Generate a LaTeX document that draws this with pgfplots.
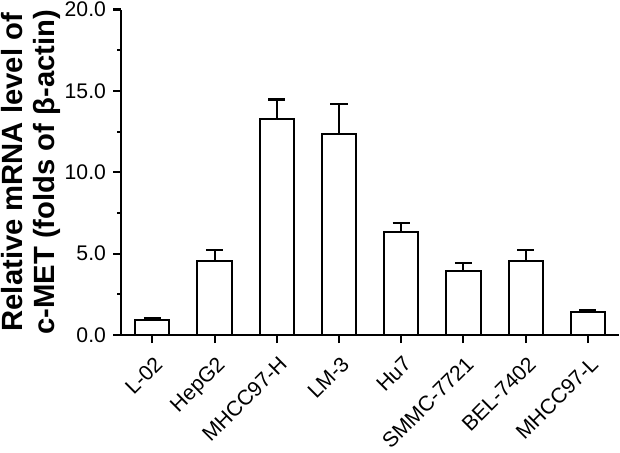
\documentclass[border=0pt]{standalone}
\usepackage{fontspec}
\setmainfont{Liberation Sans}
\usepackage{pgfplots}
\pgfplotsset{compat=1.18}

\pgfplotstableread{
x y err
0 0.95 0.12
1 4.55 0.67
2 13.25 1.22
3 12.36 1.84
4 6.30 0.59
5 3.95 0.48
6 4.55 0.67
7 1.40 0.14
}\cmet

\begin{document}
\begin{tikzpicture}
\begin{axis}[
  scale only axis, width=494pt, height=323pt,
  axis x line*=bottom, axis y line*=left,
  xmin=-0.5, xmax=7.5, ymin=0, ymax=20,
  ybar, bar width=34pt,
  xtick={0,...,7},
  xticklabels={L-02,HepG2,MHCC97-H,LM-3,Hu7,SMMC-7721,BEL-7402,MHCC97-L},
  ytick={0,5,10,15,20},
  minor ytick={2.5,7.5,12.5,17.5},
  tick align=outside,
  major tick length=8pt, minor tick length=4pt,
  every tick/.style={black, line width=2pt},
  axis line style={line width=2pt},
  tick label style={font=\fontsize{21}{24}\selectfont, inner sep=2pt},
  xticklabel style={xshift=1pt, yshift=-9pt, rotate=45, anchor=north east},
  yticklabel style={xshift=-5pt, /pgf/number format/.cd, fixed, fixed zerofill, precision=1, assume math mode=true},
  ylabel={Relative mRNA level of\\c-MET (folds of β-actin)},
  ylabel style={align=center, inner sep=1.5pt, font=\fontsize{29}{32}\selectfont\bfseries},
]
\addplot[draw=black, fill=white, line width=2pt,
  error bars/.cd, y dir=plus, y explicit,
  error bar style={line width=2pt},
  error mark options={rotate=90, mark size=8.5pt, line width=2pt}]
  table[x=x, y=y, y error=err] {\cmet};
\end{axis}
\end{tikzpicture}
\end{document}
